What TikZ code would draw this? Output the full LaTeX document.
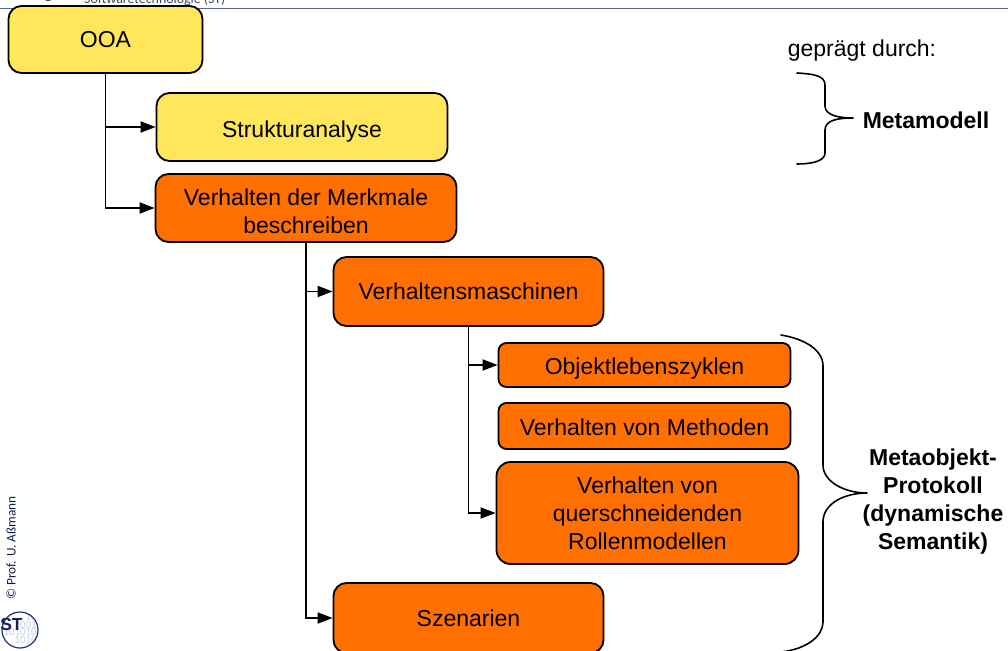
\documentclass[tikz,border=0pt]{standalone}
\usepackage{fontspec}
\setmainfont{Liberation Sans}
\newfontfamily\footfont{Carlito}
\usetikzlibrary{arrows.meta,calc}
\definecolor{boxyellow}{RGB}{255,230,90}
\definecolor{boxorange}{RGB}{255,112,0}
\definecolor{headline}{RGB}{90,100,145}
\definecolor{stblue}{RGB}{30,50,120}
\definecolor{bitblue}{RGB}{205,205,235}
\tikzset{
  x=1pt,y=-1pt,
  box/.style={draw=black,line width=1.8pt,rounded corners=#1,align=center,inner sep=0pt,outer sep=0pt,
    font=\fontsize{23}{28}\selectfont,anchor=north west},
  box/.default=13pt,
  yellowbox/.style={box=13pt,fill=boxyellow},
  orangebox/.style={box=#1,fill=boxorange},
  orangebox/.default=13pt,
  conn/.style={draw=black,line width=1.8pt,-{Triangle[length=15pt,width=11pt]},shorten >=0.9pt},
  brace/.style={draw=black,line width=1.6pt,line cap=round,line join=round},
  side/.style={font=\fontsize{23}{28}\selectfont\bfseries,align=center},
}
\newcommand{\placebox}[7]{\node[#1,minimum width=#5-#4,minimum height=#7-#6] (#2) at (#4,#6) {#3};}
\newcommand{\lowered}[1]{\rule{0pt}{#1pt}}
\begin{document}
\begin{tikzpicture}
\useasboundingbox (0,0) rectangle (1008,650);
\clip (0,0) rectangle (1008,650);
\fill[white] (0,0) rectangle (1008,650);
% header
\coordinate (hl) at (0,9); \coordinate (hr) at (1008,9);
\draw[headline,line width=1pt] (hl) -- (hr);
\node[font=\footfont\fontsize{13.9}{13.9}\selectfont,anchor=base west,inner sep=0pt,text=headline!70!black] (htitle) at (84,3.2) {Softwaretechnologie (ST)};
\node[font=\footfont\fontsize{18}{18}\selectfont,anchor=base west,inner sep=0pt,text=headline!70!black] (hg) at (44,-1) {g};
% boxes
\placebox{yellowbox}{ooa}{OOA}{8.5}{202.5}{6}{73}
\placebox{yellowbox}{strukt}{\lowered{25}Strukturanalyse}{156.5}{447.5}{93}{161}
\placebox{orangebox}{merk}{\lowered{23}Verhalten der Merkmale\\beschreiben}{155.5}{456.5}{174}{242}
\placebox{orangebox}{vm}{Verhaltensmaschinen}{333.5}{603.5}{257}{326}
\placebox{orangebox=8pt}{obj}{\lowered{23}Objektlebenszyklen}{498.5}{790.5}{343}{387}
\placebox{orangebox=8pt}{meth}{\lowered{19}Verhalten von Methoden}{498.5}{790.5}{403}{449}
\placebox{orangebox=14pt}{quer}{Verhalten von\\querschneidenden\\Rollenmodellen}{496.5}{798.5}{462}{564}
\placebox{orangebox}{szen}{Szenarien}{333.5}{603.5}{583}{653}
% connectors
\draw[conn] (ooa.south) |- (strukt.west);
\draw[conn] (ooa.south) |- (merk.west);
\draw[conn] (merk.south) |- (vm.west);
\draw[conn] (merk.south) |- (szen.west);
\draw[conn] (vm.south) |- (obj.west);
\draw[conn] (vm.south) |- (quer.west);
% braces
\coordinate (metatip) at (853,118);
\coordinate (motip) at (867,493);
\draw[brace] (797,73) .. controls (812,74) and (825,75) .. (825,85) -- (825,106)
  .. controls (825,115) and (838,118) .. (metatip)
  .. controls (838,118) and (825,120) .. (825,130) -- (825,153)
  .. controls (825,161) and (812,164) .. (797,164);
\draw[brace] (781,335) .. controls (805,339) and (823,350) .. (823,366) -- (823,465)
  .. controls (823,482) and (845,493) .. (motip)
  .. controls (845,493) and (823,503) .. (823,522) -- (823,622)
  .. controls (823,636) and (807,649) .. (781,652);
% side labels
\node[font=\fontsize{23}{28}\selectfont,anchor=center,inner sep=0pt] (gep) at (862,50.5) {geprägt durch:};
\node[side,inner sep=0pt] (mm) at (926,120) {Metamodell};
\node[side,inner sep=0pt] (mop) at (933,501.5) {Metaobjekt-\\Protokoll\\(dynamische\\Semantik)};
% footer
\node[font=\footfont\fontsize{13.3}{13.3}\selectfont,rotate=90,anchor=west,inner sep=0pt,text=stblue!60!black] (copy) at (11,600) {© Prof. U. Aßmann};
\begin{scope}
  \clip (20,630) circle (18);
  \node[font=\footfont\fontsize{11}{7.5}\selectfont,align=right,text=bitblue,inner sep=0pt,anchor=north east] (bits) at (37,613.5) {10\hspace{6pt}\\001\\101010\\1010\hspace{6pt}};
\end{scope}
\draw[stblue,line width=1.2pt] (20,630) circle (18);
\node[font=\bfseries\fontsize{17.5}{17.5}\selectfont,text=stblue!70!black,inner sep=0pt,anchor=base] (st) at (11.5,630) {ST};
\end{tikzpicture}
\end{document}
